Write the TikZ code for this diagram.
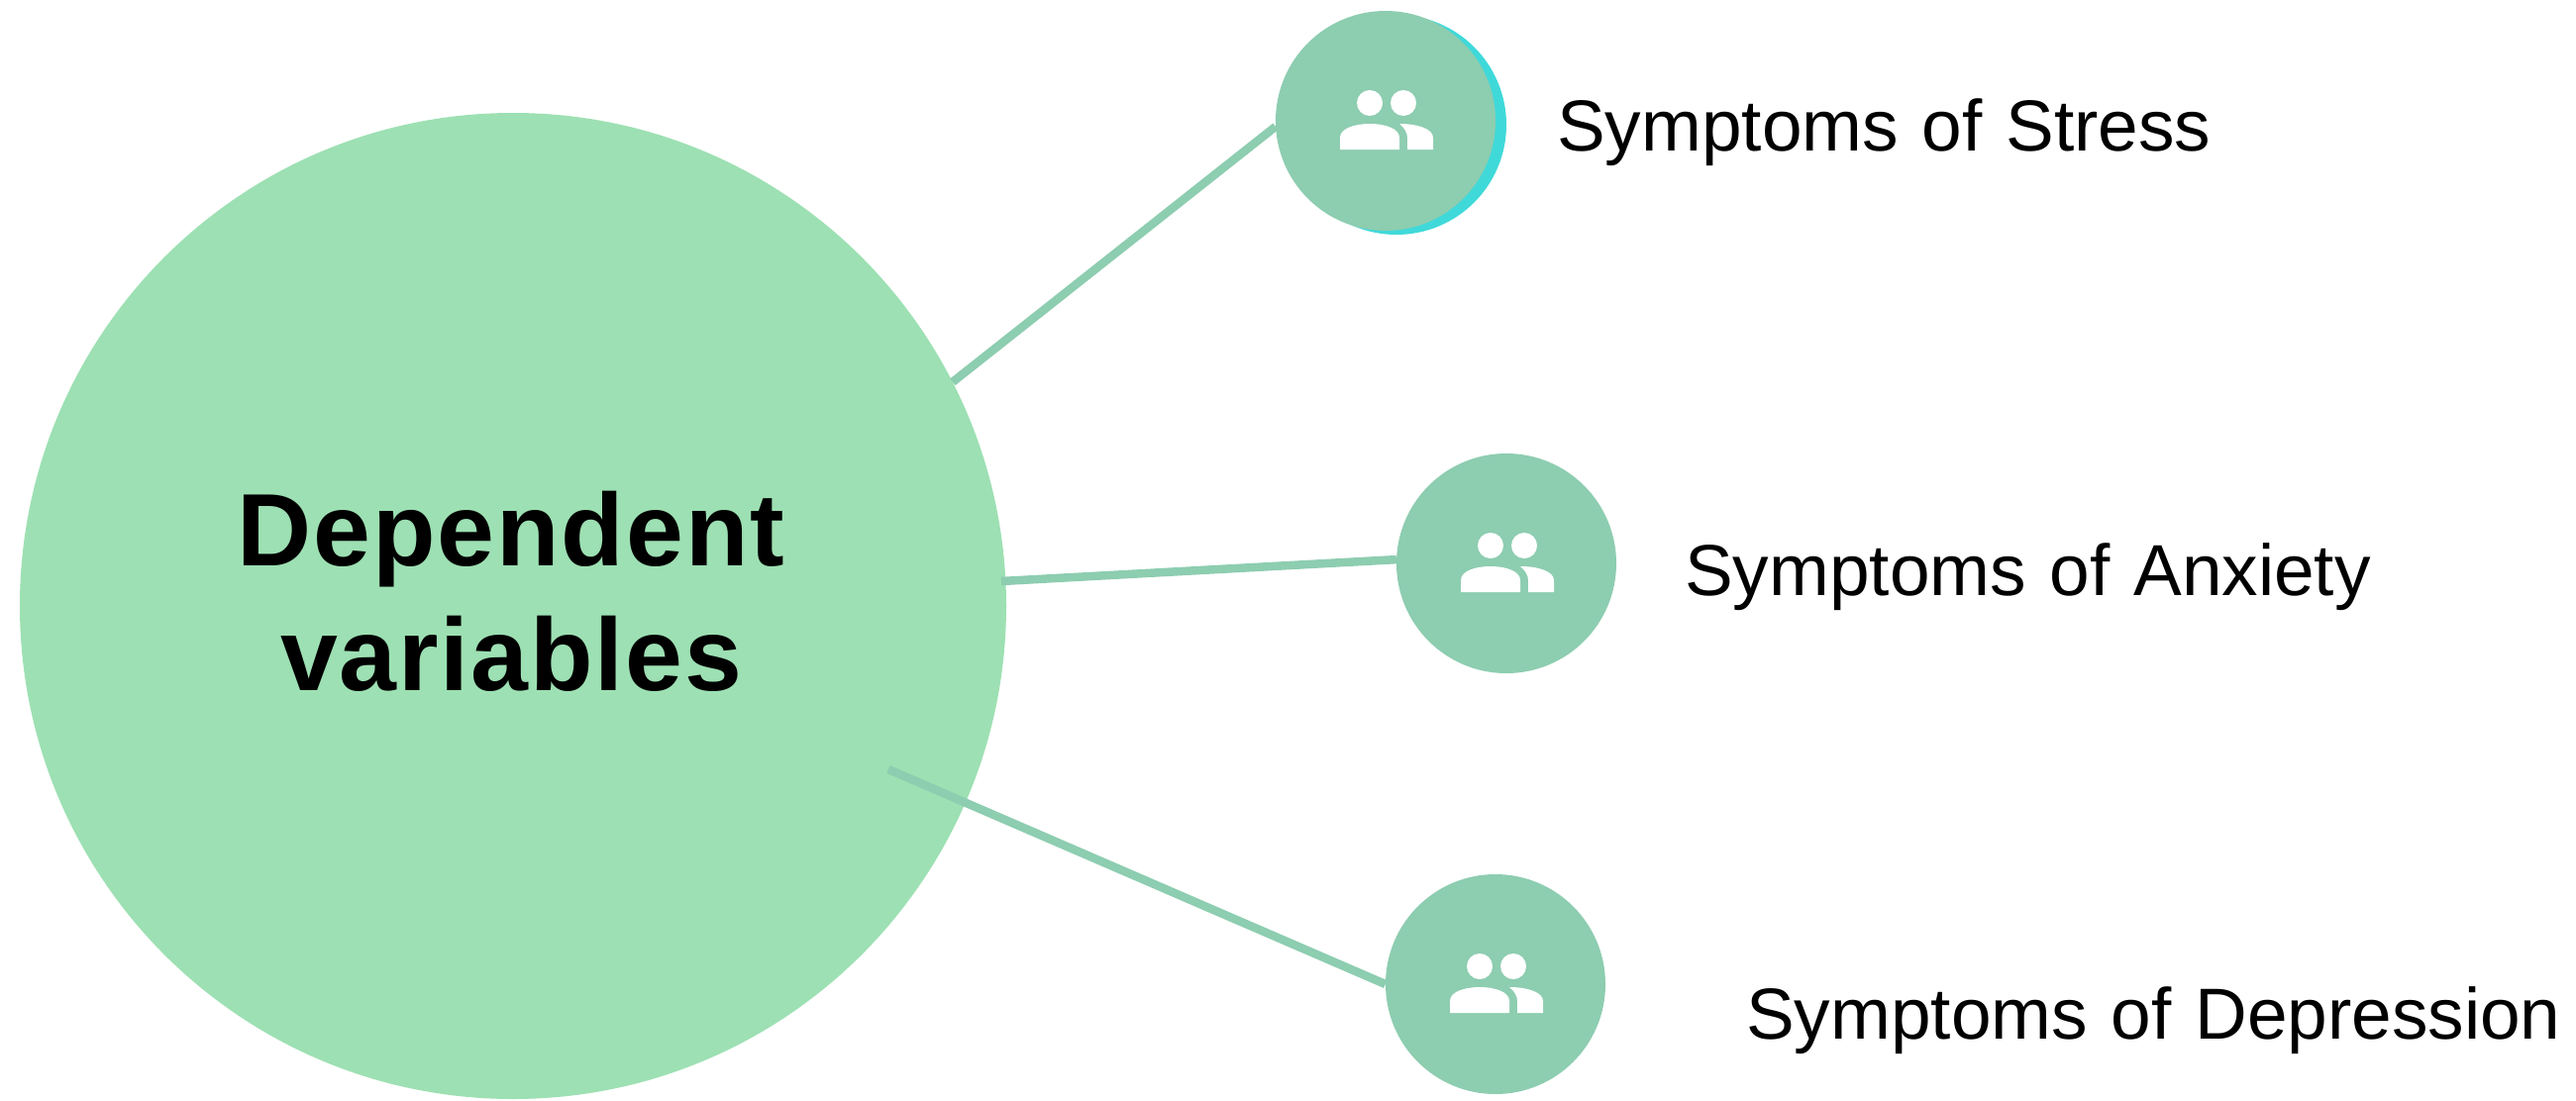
\documentclass[tikz,border=0pt]{standalone}
\usepackage{fontspec}
\setmainfont[WordSpace=1.17]{Liberation Sans}
\newfontfamily\headfont[LetterSpace=1.8,WordSpace=1]{Liberation Sans Bold}
\definecolor{bigc}{HTML}{9DE0B3}
\definecolor{smallc}{HTML}{8DCDB0}
\definecolor{cyanc}{HTML}{40D9D9}
\tikzset{
  bigcircle/.style={circle,fill=bigc,inner sep=0pt,minimum size=996pt},
  smallcircle/.style={circle,fill=smallc,inner sep=0pt,minimum size=222pt},
  shadowcircle/.style={circle,fill=cyanc,inner sep=0pt,minimum size=222pt},
  link/.style={draw=smallc,line width=8.5pt},
  symptom/.style={anchor=base west,inner sep=0pt,font=\fontsize{73}{84}\selectfont,text=black},
  headline/.style={align=center,inner sep=0pt,font=\headfont\fontsize{104}{126}\selectfont,text=black},
  people/.pic={
    \fill[white] (-16,-18) circle (13);
    \fill[white] (18,-18) circle (13);
    \fill[white] (-46,29) -- (-46,17) .. controls (-46,8) and (-32,3) .. (-16,3)
       .. controls (0,3) and (14,8) .. (14,17) -- (14,29) -- cycle;
    \fill[white] (14,3) .. controls (32,3) and (48,8) .. (48,17) -- (48,29) -- (22,29)
       -- (22,17) .. controls (22,12) and (19,7) .. (14,3) -- cycle;
  }
}
\begin{document}
\begin{tikzpicture}[x=1pt,y=-1pt]
\useasboundingbox (0,0) rectangle (2601,1111);
\node[bigcircle] (big) at (518,612) {};
\node[shadowcircle] (s1shadow) at (1410,126) {};
\node[smallcircle] (s1) at (1399,122) {};
\node[smallcircle] (s2) at (1521,569) {};
\node[smallcircle] (s3) at (1510,994) {};
\coordinate (l2start) at (1011,587);
\coordinate (l3start) at (897,777);
\draw[link] (big.27) -- (s1.183);
\draw[link] (l2start) -- (s2.178);
\draw[link] (l3start) -- (s3.180);
\pic at (s1) {people};
\pic at (s2) {people};
\pic at (s3) {people};
\node[headline] (title) at (516,597) {Dependent\\variables};
\node[symptom] (t1) at (1572,152) {Symptoms of Stress};
\node[symptom] (t2) at (1701,601) {Symptoms of Anxiety};
\node[symptom] (t3) at (1763,1049) {Symptoms of Depression};
\end{tikzpicture}
\end{document}
